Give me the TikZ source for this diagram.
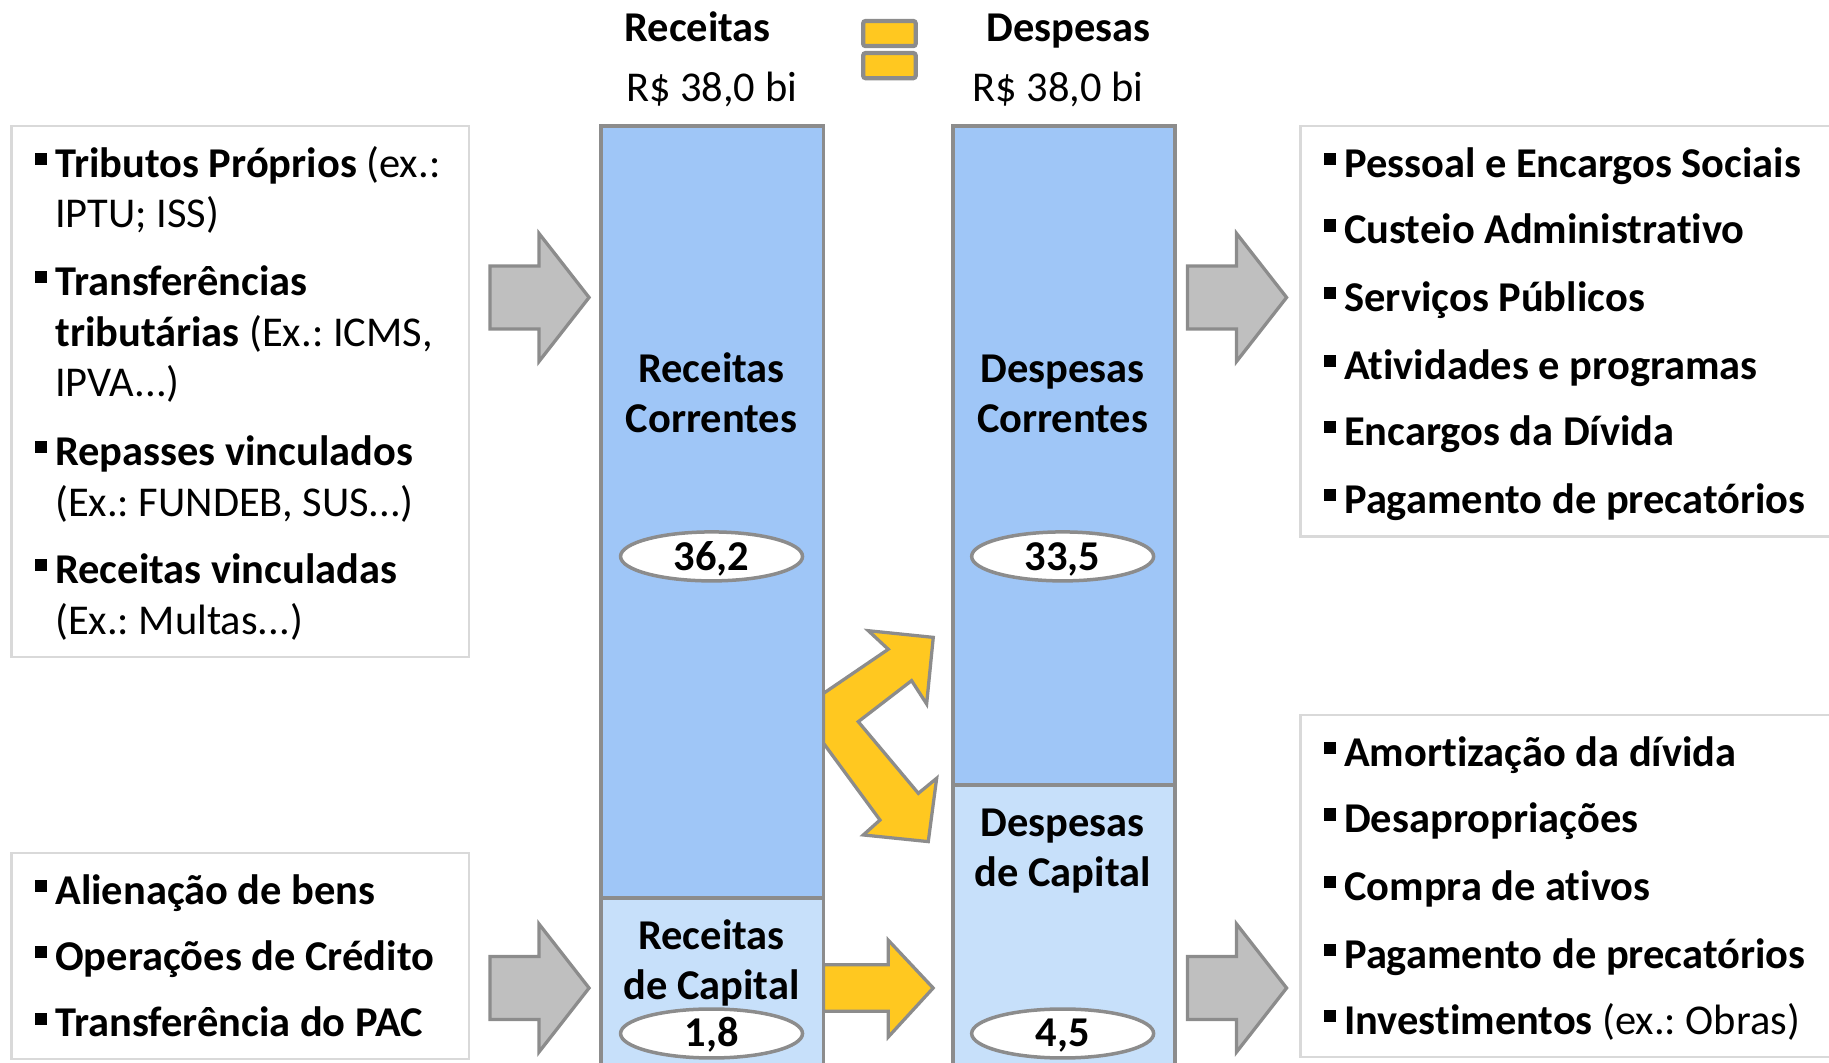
\documentclass[tikz,border=0pt]{standalone}
\usepackage{fontspec}
\setmainfont[Ligatures=NoCommon]{Carlito}
\usetikzlibrary{shapes.geometric}
\definecolor{corr}{RGB}{159,198,247}
\definecolor{capt}{RGB}{199,224,250}
\definecolor{bord}{RGB}{140,140,140}
\definecolor{boxb}{RGB}{217,217,217}
\definecolor{garrow}{RGB}{191,191,191}
\definecolor{yel}{RGB}{255,200,32}
\newcommand\bitem[4]{%
  \fill (#2-17,#3-21) rectangle ++(10,10.5);
  \node[txt] (#1) at (#2,#3) {#4};}
\newcommand\citem[4]{\node[txt] (#1) at (#2,#3) {#4};}
\frenchspacing
\begin{document}
\frenchspacing
\begin{tikzpicture}[x=0.5pt,y=-0.5pt,
  txt/.style={font=\fontsize{18.2}{22}\selectfont, inner sep=0pt, anchor=base west},
  ctxt/.style={font=\fontsize{18.2}{22}\selectfont\bfseries, inner sep=0pt, anchor=base},
  ntxt/.style={font=\fontsize{18.2}{22}\selectfont, inner sep=0pt, anchor=base},
  listbox/.style={draw=boxb, line width=1pt, fill=white},
  colc/.style={draw=bord, line width=1.6pt, fill=corr},
  colk/.style={draw=bord, line width=1.6pt, fill=capt},
  val/.style={draw=bord, line width=1.5pt, fill=white, ellipse, minimum width=78pt, minimum height=21pt, inner sep=0pt},
  garr/.pic={\draw[draw=bord, fill=garrow, line width=1.4pt] (0,-27) -- (42,-27) -- (42,-55) -- (85,0) -- (42,55) -- (42,27) -- (0,27) -- cycle;},
  yarr/.style={draw=bord, fill=yel, line width=1.4pt, line join=miter}
]
\useasboundingbox (0,0) rectangle (1568,911);

% header
\node[ctxt] (hrec) at (598,36) {Receitas};
\node[ntxt] (vrec) at (610,87) {R\$ 38,0 bi};
\node[ctxt] (hdes) at (916,36) {Despesas};
\node[ntxt] (vdes) at (907,87) {R\$ 38,0 bi};
\draw[draw=bord, fill=yel, line width=1.8pt, rounded corners=1pt] (740,18) rectangle (785,39.5);
\draw[draw=bord, fill=yel, line width=1.8pt, rounded corners=1pt] (740,45.5) rectangle (785,67);

% list boxes
\draw[listbox] (10,108) rectangle (402,563);
\draw[listbox] (10,731) rectangle (402,908);
\draw[listbox] (1115,108) rectangle (1590,460);
\draw[listbox] (1115,613) rectangle (1590,906);

% left top items
\bitem{l1}{47}{152}{\textbf{Tributos Próprios} (ex.:}
\citem{l1b}{47}{195}{IPTU; ISS)}
\bitem{l2}{47}{253}{\textbf{Transferências}}
\citem{l2b}{47}{297}{\textbf{tributárias} (Ex.: ICMS,}
\citem{l2c}{47}{340}{IPVA...)}
\bitem{l3}{47}{399}{\textbf{Repasses vinculados}}
\citem{l3b}{47}{443}{(Ex.: FUNDEB, SUS...)}
\bitem{l4}{47}{500}{\textbf{Receitas vinculadas}}
\citem{l4b}{47}{544}{(Ex.: Multas...)}

% left bottom items
\bitem{m1}{47}{775}{\textbf{Alienação de bens}}
\bitem{m2}{47}{832}{\textbf{Operações de Crédito}}
\bitem{m3}{47}{889}{\textbf{Transferência do PAC}}

% right top items
\bitem{r1}{1152}{152}{\textbf{Pessoal e Encargos Sociais}}
\bitem{r2}{1152}{209}{\textbf{Custeio Administrativo}}
\bitem{r3}{1152}{267}{\textbf{Serviços Públicos}}
\bitem{r4}{1152}{325}{\textbf{Atividades e programas}}
\bitem{r5}{1152}{382}{\textbf{Encargos da Dívida}}
\bitem{r6}{1152}{440}{\textbf{Pagamento de precatórios}}

% right bottom items
\bitem{s1}{1152}{657}{\textbf{Amortização da dívida}}
\bitem{s2}{1152}{714}{\textbf{Desapropriações}}
\bitem{s3}{1152}{772}{\textbf{Compra de ativos}}
\bitem{s4}{1152}{830}{\textbf{Pagamento de precatórios}}
\bitem{s5}{1152}{887}{\textbf{Investimentos} (ex.: Obras)}

% gray arrows
\pic at (420,255) {garr};
\pic at (420,847) {garr};
\pic at (1018,255) {garr};
\pic at (1018,847) {garr};

% yellow arrows
\draw[yarr] (706,827) -- (761.5,827) -- (761.5,806) -- (800,847) -- (761.5,889) -- (761.5,867) -- (706,867) -- cycle;
\draw[yarr] (706,594.4) -- (761.5,556.6) -- (744.4,540.7) -- (800.1,546.4) -- (794.4,603.5) -- (781.5,583.5)
  -- (735.8,618.7) -- (787.3,680.1) -- (803,667.2) -- (795.8,721.5) -- (740.1,715.8) -- (754.4,703) -- (706,637.2) -- cycle;

% columns
\draw[colc] (515,108) rectangle (706,770);
\draw[colk] (515,770) rectangle (706,925);
\draw[colc] (817,108) rectangle (1007,673);
\draw[colk] (817,673) rectangle (1007,925);

\node[ctxt] (rc1) at (610,328) {Receitas};
\node[ctxt] (rc2) at (610,371) {Correntes};
\node[ctxt] (dc1) at (911,328) {Despesas};
\node[ctxt] (dc2) at (911,371) {Correntes};
\node[ctxt] (rk1) at (610,814) {Receitas};
\node[ctxt] (rk2) at (610,857) {de Capital};
\node[ctxt] (dk1) at (911,717) {Despesas};
\node[ctxt] (dk2) at (911,760) {de Capital};

\node[val] (e1) at (610,477) {};
\node[ctxt] (n1) at (610,489) {36,2};
\node[val] (e2) at (911,477) {};
\node[ctxt] (n2) at (911,489) {33,5};
\node[val] (e3) at (610,886) {};
\node[ctxt] (n3) at (610,897) {1,8};
\node[val] (e4) at (911,886) {};
\node[ctxt] (n4) at (911,897) {4,5};
\end{tikzpicture}
\end{document}
